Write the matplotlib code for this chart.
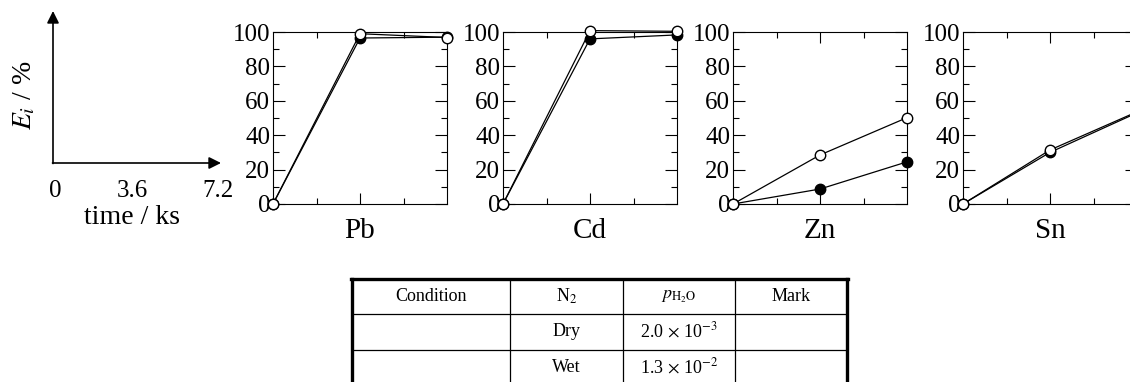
import numpy as np
import matplotlib
matplotlib.use("Agg")
import matplotlib.pyplot as plt

plt.rcParams['font.family'] = ['Liberation Serif', 'DejaVu Serif']
plt.rcParams['mathtext.fontset'] = 'stix'

W, H = 1130, 382

# data
time = [0.0, 3.6, 7.2]
elements = ["Pb", "Cd", "Zn", "Sn"]
filled_pb = [0, 96.5, 97.0]
filled_cd = [0, 96.0, 98.3]
filled_zn = [0, 8.7, 24.5]
filled_sn = [0, 30.0, 53.0]
open_pb = [0, 99.0, 96.8]
open_cd = [0, 100.8, 100.4]
open_zn = [0, 28.5, 50.2]
open_sn = [0, 31.4, 53.6]
filled = [filled_pb, filled_cd, filled_zn, filled_sn]
opened = [open_pb, open_cd, open_zn, open_sn]

y_ticks = [0, 20, 40, 60, 80, 100]
time_ticks = ["0", "3.6", "7.2"]

table_header = ["Condition", "N$_2$", r"$p_{\mathrm{H_2O}}$", "Mark"]
table_rows = [["", "Dry", r"2.0$\,\times\,$10$^{\mathrm{-3}}$", ""],
              ["", "Wet", r"1.3$\,\times\,$10$^{\mathrm{-2}}$", ""]]


def px(x, y):
    # pixel (from top-left) -> figure fraction
    return x / W, 1 - y / H


fig = plt.figure(figsize=(W / 100, H / 100), dpi=100)

# background axes in pixel coordinates for schematic + table
bg = fig.add_axes([0, 0, 1, 1])
bg.set_xlim(0, W)
bg.set_ylim(H, 0)
bg.axis("off")

# schematic axes with arrows
bg.annotate("", xy=(53, 11), xytext=(53, 163.5),
            arrowprops=dict(arrowstyle="-|>", color="k", lw=1.2,
                            mutation_scale=18, shrinkA=0, shrinkB=0))
bg.annotate("", xy=(221, 163), xytext=(52.5, 163),
            arrowprops=dict(arrowstyle="-|>", color="k", lw=1.2,
                            mutation_scale=18, shrinkA=0, shrinkB=0))
for lab, xx in zip(time_ticks, [55, 132, 218]):
    bg.text(xx, 191, lab, ha="center", va="center", fontsize=18)
bg.text(132, 218, "time / ks", ha="center", va="center", fontsize=20)
bg.text(25, 95, "$E_i$ / %", ha="center", va="center", fontsize=20, rotation=90)

# table
col_x = [352, 510, 623, 735, 847]
row_y = [279, 314, 350, 386]
for yy in row_y[1:-1]:
    bg.plot([col_x[0], col_x[-1]], [yy, yy], color="k", lw=0.9)
for xx in col_x[1:-1]:
    bg.plot([xx, xx], [row_y[0], row_y[-1]], color="k", lw=0.9)
bg.plot([col_x[0], col_x[0]], [row_y[0], row_y[-1]], color="k", lw=2.4)
bg.plot([col_x[-1], col_x[-1]], [row_y[0], row_y[-1]], color="k", lw=2.4)
bg.plot([col_x[0] - 1, col_x[-1] + 1], [row_y[0], row_y[0]], color="k", lw=2.4)
for j, cell in enumerate(table_header):
    bg.text((col_x[j] + col_x[j + 1]) / 2, (row_y[0] + row_y[1]) / 2, cell,
            ha="center", va="center", fontsize=13)
for i, row in enumerate(table_rows):
    for j, cell in enumerate(row):
        bg.text((col_x[j] + col_x[j + 1]) / 2, (row_y[i + 1] + row_y[i + 2]) / 2 - 1,
                cell, ha="center", va="center", fontsize=13)

# panels
lefts = [273, 503, 733, 963]
for k, el in enumerate(elements):
    x0, y0 = px(lefts[k], 204)
    ax = fig.add_axes([x0, y0, 174 / W, 172 / H])
    ax.plot(time, filled[k], "-o", color="k", lw=0.9, ms=7.5,
            mfc="k", mec="k", clip_on=False, zorder=3)
    ax.plot(time, opened[k], "-o", color="k", lw=0.9, ms=7.5,
            mfc="w", mec="k", mew=1.0, clip_on=False, zorder=4)
    ax.set_xlim(0, 7.2)
    ax.set_ylim(0, 100)
    ax.set_yticks(y_ticks)
    ax.set_yticks(np.arange(10, 100, 20), minor=True)
    ax.set_xticks([3.6])
    ax.set_xticks([1.8, 5.4], minor=True)
    ax.set_xticklabels([])
    ax.tick_params(axis="both", which="both", direction="in", top=True, right=True,
                   width=0.8, labelsize=18, pad=2)
    ax.tick_params(axis="y", which="major", length=8.6)
    ax.tick_params(axis="y", which="minor", length=4.3)
    ax.tick_params(axis="x", which="major", length=8)
    ax.tick_params(axis="x", which="minor", length=4)
    for s in ax.spines.values():
        s.set_linewidth(0.8)
    ax.set_xlabel(el, fontsize=21, labelpad=8)

fig.savefig("out.png", dpi=100)
